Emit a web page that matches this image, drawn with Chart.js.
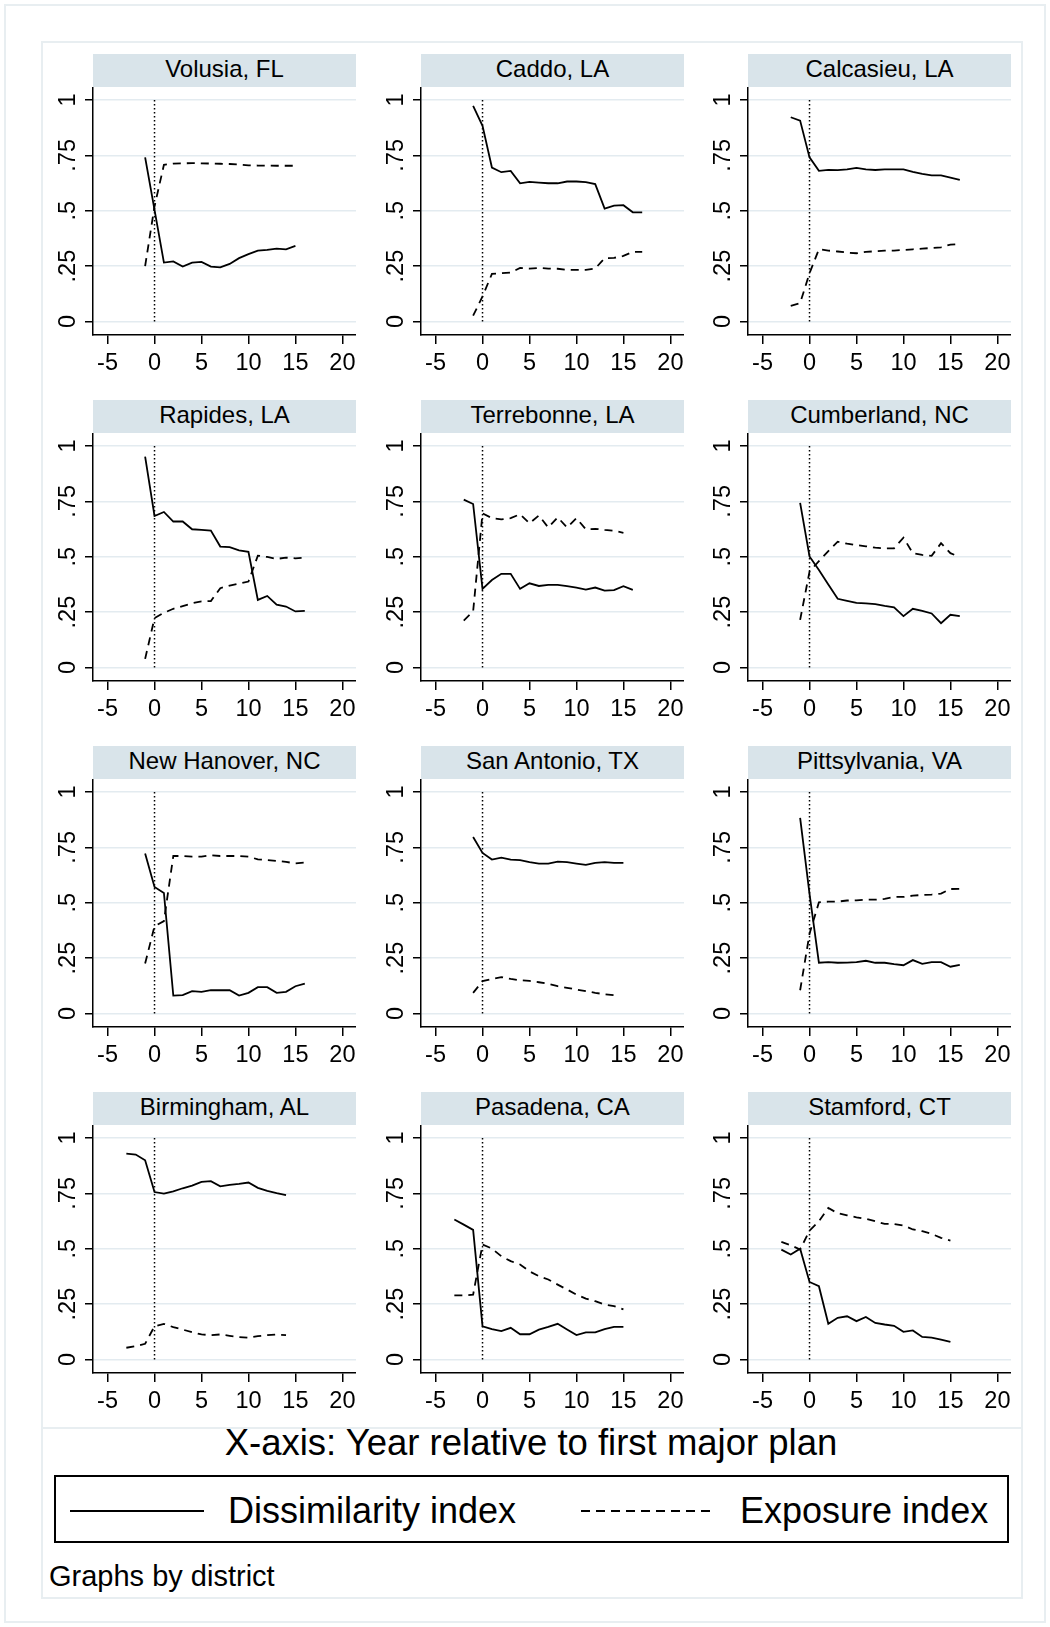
<!DOCTYPE html>
<html lang="en">
<head>
<meta charset="utf-8">
<title>Dissimilarity and exposure index by district</title>
<script src="https://cdn.jsdelivr.net/npm/chart.js@4.4.1/dist/chart.umd.min.js"></script>
<style>
  body {
    margin: 0;
    width: 1050px;
    height: 1627px;
    background: #fff;
    position: relative;
    overflow: hidden;
    font-family: "Liberation Sans", Arial, sans-serif;
    color: #000;
  }
  .marco { position: absolute; box-sizing: border-box; border: 2px solid #e8eef1; }
  .tira {
    position: absolute;
    background: #d9e4ea;
    font-size: 24px;
    text-align: center;
    line-height: 30px;
    height: 33px;
  }
  canvas { position: absolute; }
  .texto { position: absolute; white-space: nowrap; }
</style>
</head>
<body>
<div class="marco" style="left:4px; top:4px; width:1042px; height:1619px;"></div>
<div class="marco" style="left:41px; top:41px; width:982px; height:1558px;"></div>
<div style="position:absolute; left:42px; top:1427px; width:980px; height:2px; background:#e8eef1;"></div>

<div class="texto" style="left:0; width:1062px; top:1422px; font-size:36.5px; line-height:42px; text-align:center;">X-axis: Year relative to first major plan</div>

<div style="position:absolute; left:54px; top:1475px; width:955px; height:68px; box-sizing:border-box; border:2px solid #000;"></div>
<svg style="position:absolute; left:0; top:0;" width="1050" height="1627">
  <line x1="70" y1="1511" x2="204" y2="1511" stroke="#000" stroke-width="2"/>
  <line x1="581" y1="1511" x2="716" y2="1511" stroke="#000" stroke-width="2" stroke-dasharray="9 6"/>
</svg>
<div class="texto" style="left:228px; top:1489px; font-size:36px; line-height:44px;">Dissimilarity index</div>
<div class="texto" style="left:740px; top:1489px; font-size:36px; line-height:44px;">Exposure index</div>
<div class="texto" style="left:49px; top:1559px; font-size:29px; line-height:34px;">Graphs by district</div>

<script>
// Datos
const distritos = [
  "Volusia, FL", "Caddo, LA", "Calcasieu, LA",
  "Rapides, LA", "Terrebonne, LA", "Cumberland, NC",
  "New Hanover, NC", "San Antonio, TX", "Pittsylvania, VA",
  "Birmingham, AL", "Pasadena, CA", "Stamford, CT"
];
const xTicks = [-5, 0, 5, 10, 15, 20];
const yTicks = [0, 0.25, 0.5, 0.75, 1];
const yTickLabels = ["0", ".25", ".5", ".75", "1"];

const volusiaAnios = [-1, 0, 1, 2, 3, 4, 5, 6, 7, 8, 9, 10, 11, 12, 13, 14, 15];
const volusiaDisim = [0.741, 0.504, 0.266, 0.271, 0.248, 0.266, 0.269, 0.248, 0.244, 0.26, 0.286, 0.304, 0.32, 0.323, 0.329, 0.326, 0.341];
const volusiaExpo = [0.25, 0.52, 0.707, 0.713, 0.714, 0.715, 0.714, 0.713, 0.712, 0.711, 0.709, 0.705, 0.704, 0.704, 0.703, 0.703, 0.703];

const caddoAnios = [-1, 0, 1, 2, 3, 4, 5, 6, 7, 8, 9, 10, 11, 12, 13, 14, 15, 16, 17];
const caddoDisim = [0.973, 0.883, 0.695, 0.674, 0.68, 0.624, 0.63, 0.627, 0.624, 0.624, 0.632, 0.632, 0.629, 0.62, 0.51, 0.523, 0.525, 0.493, 0.493];
const caddoExpo = [0.026, 0.113, 0.215, 0.218, 0.221, 0.242, 0.239, 0.242, 0.239, 0.238, 0.233, 0.233, 0.233, 0.239, 0.286, 0.287, 0.296, 0.314, 0.314];

const calcasieuAnios = [-2, -1, 0, 1, 2, 3, 4, 5, 6, 7, 8, 9, 10, 11, 12, 13, 14, 15, 16];
const calcasieuDisim = [0.922, 0.907, 0.741, 0.68, 0.684, 0.683, 0.687, 0.693, 0.687, 0.684, 0.687, 0.687, 0.687, 0.675, 0.666, 0.66, 0.66, 0.65, 0.639];
const calcasieuExpo = [0.071, 0.083, 0.218, 0.326, 0.32, 0.316, 0.311, 0.308, 0.314, 0.317, 0.32, 0.32, 0.323, 0.326, 0.329, 0.332, 0.335, 0.347, 0.35];

const rapidesAnios = [-1, 0, 1, 2, 3, 4, 5, 6, 7, 8, 9, 10, 11, 12, 13, 14, 15, 16];
const rapidesDisim = [0.952, 0.684, 0.702, 0.659, 0.659, 0.624, 0.621, 0.618, 0.546, 0.543, 0.529, 0.522, 0.305, 0.323, 0.284, 0.275, 0.253, 0.256];
const rapidesExpo = [0.039, 0.223, 0.247, 0.265, 0.277, 0.29, 0.298, 0.3, 0.358, 0.37, 0.379, 0.388, 0.505, 0.499, 0.49, 0.496, 0.493, 0.496];

const terrebonneAnios = [-2, -1, 0, 1, 2, 3, 4, 5, 6, 7, 8, 9, 10, 11, 12, 13, 14, 15, 16];
const terrebonneDisim = [0.758, 0.738, 0.355, 0.395, 0.423, 0.423, 0.355, 0.38, 0.368, 0.373, 0.373, 0.367, 0.361, 0.352, 0.361, 0.347, 0.349, 0.367, 0.35];
const terrebonneExpo = [0.212, 0.253, 0.696, 0.674, 0.669, 0.674, 0.692, 0.651, 0.686, 0.632, 0.678, 0.632, 0.674, 0.624, 0.626, 0.621, 0.617, 0.608, null];

const cumberlandAnios = [-1, 0, 1, 2, 3, 4, 5, 6, 7, 8, 9, 10, 11, 12, 13, 14, 15, 16];
const cumberlandDisim = [0.743, 0.501, 0.44, 0.375, 0.31, 0.301, 0.292, 0.289, 0.286, 0.278, 0.271, 0.232, 0.265, 0.256, 0.244, 0.2, 0.238, 0.232];
const cumberlandExpo = [0.215, 0.433, 0.48, 0.525, 0.568, 0.559, 0.553, 0.547, 0.541, 0.538, 0.538, 0.586, 0.516, 0.508, 0.504, 0.561, 0.516, 0.499];

const newHanoverAnios = [-1, 0, 1, 2, 3, 4, 5, 6, 7, 8, 9, 10, 11, 12, 13, 14, 15, 16];
const newHanoverDisim = [0.722, 0.571, 0.544, 0.081, 0.083, 0.101, 0.098, 0.105, 0.105, 0.105, 0.081, 0.093, 0.119, 0.119, 0.093, 0.098, 0.123, 0.135];
const newHanoverExpo = [0.226, 0.394, 0.417, 0.711, 0.711, 0.708, 0.708, 0.714, 0.711, 0.711, 0.711, 0.708, 0.696, 0.693, 0.689, 0.684, 0.678, 0.681];

const sanAntonioAnios = [-1, 0, 1, 2, 3, 4, 5, 6, 7, 8, 9, 10, 11, 12, 13, 14, 15];
const sanAntonioDisim = [0.797, 0.725, 0.695, 0.704, 0.695, 0.692, 0.683, 0.677, 0.677, 0.686, 0.683, 0.677, 0.671, 0.68, 0.683, 0.68, 0.68];
const sanAntonioExpo = [0.093, 0.146, 0.156, 0.164, 0.156, 0.15, 0.147, 0.141, 0.134, 0.123, 0.116, 0.108, 0.101, 0.093, 0.087, 0.083, null];

const pittsylvaniaAnios = [-1, 0, 1, 2, 3, 4, 5, 6, 7, 8, 9, 10, 11, 12, 13, 14, 15, 16];
const pittsylvaniaDisim = [0.883, 0.54, 0.229, 0.232, 0.229, 0.23, 0.232, 0.238, 0.229, 0.229, 0.223, 0.218, 0.241, 0.224, 0.232, 0.232, 0.211, 0.22];
const pittsylvaniaExpo = [0.105, 0.36, 0.502, 0.505, 0.505, 0.51, 0.511, 0.514, 0.514, 0.517, 0.526, 0.526, 0.532, 0.535, 0.537, 0.541, 0.562, 0.563];

const birminghamAnios = [-3, -2, -1, 0, 1, 2, 3, 4, 5, 6, 7, 8, 9, 10, 11, 12, 13, 14];
const birminghamDisim = [0.929, 0.925, 0.899, 0.756, 0.749, 0.759, 0.773, 0.785, 0.802, 0.805, 0.782, 0.788, 0.793, 0.799, 0.775, 0.761, 0.751, 0.742];
const birminghamExpo = [0.053, 0.06, 0.071, 0.15, 0.161, 0.146, 0.135, 0.123, 0.113, 0.11, 0.113, 0.107, 0.101, 0.098, 0.105, 0.11, 0.113, 0.11];

const pasadenaAnios = [-3, -2, -1, 0, 1, 2, 3, 4, 5, 6, 7, 8, 9, 10, 11, 12, 13, 14, 15];
const pasadenaDisim = [0.632, 0.609, 0.585, 0.15, 0.137, 0.128, 0.143, 0.114, 0.114, 0.135, 0.147, 0.161, 0.135, 0.11, 0.122, 0.122, 0.137, 0.147, 0.147];
const pasadenaExpo = [0.289, 0.289, 0.293, 0.519, 0.501, 0.466, 0.444, 0.429, 0.398, 0.376, 0.361, 0.338, 0.316, 0.293, 0.275, 0.263, 0.248, 0.241, 0.226];

const stamfordAnios = [-3, -2, -1, 0, 1, 2, 3, 4, 5, 6, 7, 8, 9, 10, 11, 12, 13, 14, 15];
const stamfordDisim = [0.496, 0.474, 0.5, 0.35, 0.331, 0.161, 0.188, 0.195, 0.173, 0.192, 0.165, 0.158, 0.152, 0.125, 0.131, 0.102, 0.099, 0.09, 0.08];
const stamfordExpo = [0.531, 0.516, 0.496, 0.582, 0.624, 0.684, 0.66, 0.651, 0.642, 0.635, 0.624, 0.612, 0.612, 0.605, 0.587, 0.579, 0.567, 0.549, 0.537];

const paneles = [
  [volusiaAnios, volusiaDisim, volusiaExpo],
  [caddoAnios, caddoDisim, caddoExpo],
  [calcasieuAnios, calcasieuDisim, calcasieuExpo],
  [rapidesAnios, rapidesDisim, rapidesExpo],
  [terrebonneAnios, terrebonneDisim, terrebonneExpo],
  [cumberlandAnios, cumberlandDisim, cumberlandExpo],
  [newHanoverAnios, newHanoverDisim, newHanoverExpo],
  [sanAntonioAnios, sanAntonioDisim, sanAntonioExpo],
  [pittsylvaniaAnios, pittsylvaniaDisim, pittsylvaniaExpo],
  [birminghamAnios, birminghamDisim, birminghamExpo],
  [pasadenaAnios, pasadenaDisim, pasadenaExpo],
  [stamfordAnios, stamfordDisim, stamfordExpo]
];

const FUENTE = "'Liberation Sans', Arial, sans-serif";
const ejeX = [93, 421, 748];
const tiraY = [54, 400, 746, 1092];

// Etiquetas del eje Y giradas, como en Stata
const etiquetasY = {
  id: "etiquetasY",
  afterDraw(chart) {
    const { ctx, chartArea } = chart;
    const escala = chart.scales.y;
    ctx.save();
    ctx.font = `23.5px ${FUENTE}`;
    ctx.fillStyle = "#000";
    ctx.textAlign = "center";
    ctx.textBaseline = "middle";
    yTicks.forEach((valor, i) => {
      ctx.save();
      ctx.translate(chartArea.left - 25, escala.getPixelForValue(valor));
      ctx.rotate(-Math.PI / 2);
      ctx.fillText(yTickLabels[i], 0, 1);
      ctx.restore();
    });
    ctx.restore();
  }
};

const puntos = (anios, valores) => anios.map((a, i) => ({ x: a, y: valores[i] }));

// Función para dibujar cada panel
function dibujarPanel(indice) {
  const [anios, disim, expo] = paneles[indice];
  const col = indice % 3;
  const fila = Math.floor(indice / 3);

  const tira = document.createElement("div");
  tira.className = "tira";
  tira.style.left = ejeX[col] + "px";
  tira.style.top = tiraY[fila] + "px";
  tira.style.width = "263px";
  tira.textContent = distritos[indice];
  document.body.appendChild(tira);

  const lienzo = document.createElement("canvas");
  lienzo.width = 323;
  lienzo.height = 300;
  lienzo.style.left = (ejeX[col] - 60) + "px";
  lienzo.style.top = (tiraY[fila] + 33) + "px";
  document.body.appendChild(lienzo);

  new Chart(lienzo, {
    type: "line",
    data: {
      datasets: [
        {
          label: "Dissimilarity index",
          data: puntos(anios, disim),
          borderColor: "#000",
          borderWidth: 1.8,
          pointRadius: 0,
          tension: 0,
          fill: false
        },
        {
          label: "Exposure index",
          data: puntos(anios, expo),
          borderColor: "#000",
          borderWidth: 1.8,
          borderDash: [8, 6],
          pointRadius: 0,
          tension: 0,
          fill: false
        },
        {
          label: "Plan",
          data: [{ x: 0, y: 0 }, { x: 0, y: 1 }],
          borderColor: "#000",
          borderWidth: 1.5,
          borderDash: [1.5, 2.5],
          pointRadius: 0,
          fill: false
        }
      ]
    },
    options: {
      responsive: false,
      animation: false,
      devicePixelRatio: 1,
      layout: { padding: 0 },
      plugins: { legend: { display: false }, tooltip: { enabled: false } },
      scales: {
        x: {
          type: "linear",
          min: -6.55,
          max: 21.45,
          afterBuildTicks: (s) => { s.ticks = xTicks.map((v) => ({ value: v })); },
          afterFit: (s) => { s.height = 52; s.paddingLeft = 0; s.paddingRight = 0; },
          grid: { drawOnChartArea: false, tickLength: 9, tickColor: "#000", lineWidth: 1.5 },
          border: { display: true, color: "#000", width: 1.5 },
          ticks: {
            color: "#000",
            font: { size: 23.5, family: FUENTE },
            padding: 5,
            maxRotation: 0,
            autoSkip: false
          }
        },
        y: {
          type: "linear",
          min: -0.061,
          max: 1.0586,
          afterBuildTicks: (s) => { s.ticks = yTicks.map((v) => ({ value: v })); },
          afterFit: (s) => { s.width = 60; s.paddingTop = 0; s.paddingBottom = 0; },
          grid: { color: "#e3ebf0", lineWidth: 1.5, tickColor: "#000", tickLength: 8 },
          border: { display: true, color: "#000", width: 1.5 },
          ticks: { display: false }
        }
      }
    },
    plugins: [etiquetasY]
  });
}

paneles.forEach((_, i) => dibujarPanel(i));
</script>
</body>
</html>
